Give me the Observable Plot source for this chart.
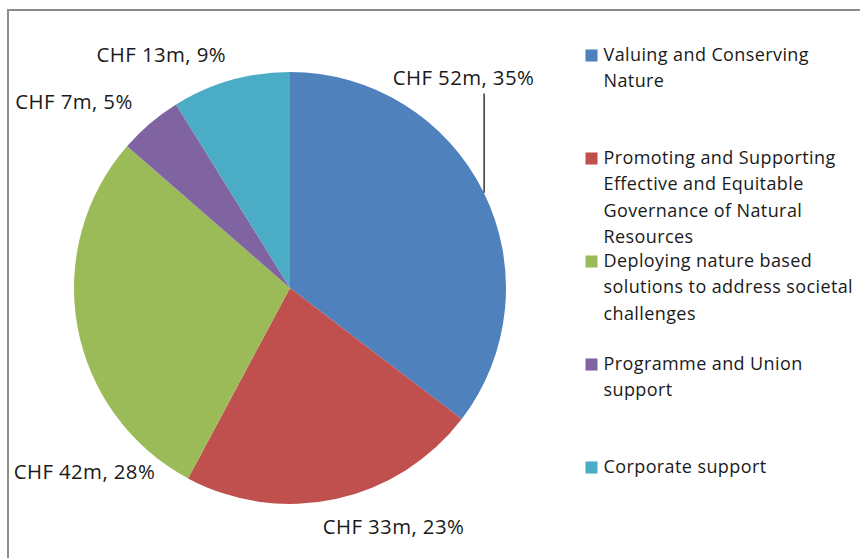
<!DOCTYPE html>
<html>
<head>
<meta charset="utf-8">
<script src="https://cdn.jsdelivr.net/npm/d3@7"></script>
<script src="https://cdn.jsdelivr.net/npm/@observablehq/plot@0.6"></script>
<style>
  html, body { margin: 0; padding: 0; background: #fff; }
  #wrap { position: relative; width: 860px; height: 558px; overflow: hidden; background: #fff; }
  #frame { position: absolute; left: 7px; top: 9px; width: 900px; height: 600px; border: 2px solid #8c8c8c; box-sizing: border-box; }
  #pie { position: absolute; left: 0; top: 0; }
  #legend { position: absolute; left: 560px; top: 0; }
  svg text { letter-spacing: 0.4px; }
</style>
</head>
<body>
<div id="wrap">
  <div id="frame"></div>
  <div id="pie"></div>
  <div id="legend"></div>
</div>
<script>
// ---- data ----
const categories = [
  "Valuing and Conserving Nature",
  "Promoting and Supporting Effective and Equitable Governance of Natural Resources",
  "Deploying nature based solutions to address societal challenges",
  "Programme and Union support",
  "Corporate support"
];
const valuesCHFm = [52, 33, 42, 7, 13];
const percents = [35, 23, 28, 5, 9];
const colors = ["#4F81BD", "#C0504D", "#9BBB59", "#8064A2", "#4BACC6"];

// ---- layout (label placement relative to slice mid-angle, in pie radii / degrees) ----
const labelLayout = [
  {turn: -24.2, radius: 1.26, leader: true},
  {turn: -11.1, radius: 1.203, leader: false},
  {turn: -31.3, radius: 1.278, leader: false},
  {turn: -8.9, radius: 1.322, leader: false},
  {turn: -13.1, radius: 1.233, leader: false}
];

const FONT = "Open Sans";
const LABEL_SIZE = 20.4;
const LEGEND_SIZE = 18;
const TEXT_COLOR = "#1a1a1a";

const arcs = d3.pie().sort(null).value(d => d)(valuesCHFm);
const slices = categories.map((name, i) => {
  const a = arcs[i];
  const mid = (a.startAngle + a.endAngle) / 2;
  const L = labelLayout[i];
  const la = mid + L.turn * Math.PI / 180;
  return {
    name, value: valuesCHFm[i], pct: percents[i],
    startAngle: a.startAngle, endAngle: a.endAngle, mid,
    lx: L.radius * Math.sin(la), ly: L.radius * Math.cos(la),
    leader: L.leader
  };
});

const pie = Plot.plot({
  width: 560, height: 558,
  marginLeft: 74, marginRight: 54, marginTop: 72, marginBottom: 54,
  x: {domain: [-1, 1], axis: null},
  y: {domain: [-1, 1], axis: null},
  color: {domain: categories, range: colors},
  style: {fontFamily: FONT, background: "transparent", overflow: "visible"},
  marks: [
    Plot.dot(slices, {
      x: () => 0, y: () => 0, fill: "name",
      render(index, scales, values, dimensions, context) {
        const cx = scales.x(0), cy = scales.y(0), R = scales.x(1) - scales.x(0);
        const arc = d3.arc().innerRadius(0).outerRadius(R);
        const g = d3.create("svg:g").attr("aria-label", "pie slices");
        g.selectAll("path").data(slices).join("path")
          .attr("transform", `translate(${cx},${cy})`)
          .attr("d", d => arc(d))
          .attr("fill", d => scales.color(d.name));
        return g.node();
      }
    }),
    Plot.link(slices.filter(d => d.leader), {
      x1: d => Math.sin(d.mid), y1: d => Math.cos(d.mid),
      x2: d => Math.sin(d.mid), y2: d => d.ly - 15 / 216,
      stroke: "#000", strokeWidth: 1.2
    }),
    Plot.text(slices, {
      x: "lx", y: "ly",
      text: d => `CHF ${d.value}m, ${d.pct}%`,
      fontSize: LABEL_SIZE, fill: TEXT_COLOR
    })
  ]
});
document.getElementById("pie").appendChild(pie);

// ---- legend ----
const ctx = document.createElement("canvas").getContext("2d");
ctx.font = `${LEGEND_SIZE}px "${FONT}"`;
function measure(s) { return ctx.measureText(s).width + s.length * 0.4; }
function wrap(s, maxW) {
  const words = s.split(" ");
  const lines = [];
  let cur = "";
  for (const w of words) {
    const t = cur ? cur + " " + w : w;
    if (cur && measure(t) > maxW) { lines.push(cur); cur = w; } else cur = t;
  }
  if (cur) lines.push(cur);
  return lines.join("\n");
}

const legend = Plot.plot({
  width: 300, height: 558,
  marginLeft: 0, marginRight: 0, marginTop: 54, marginBottom: 91,
  y: {type: "point", padding: 0, domain: categories, axis: null},
  color: {domain: categories, range: colors},
  style: {fontFamily: FONT, background: "transparent", overflow: "visible"},
  marks: [
    Plot.dot(categories, {
      frameAnchor: "left", y: d => d, dx: 31, fill: d => d,
      symbol: "square", r: 6.8
    }),
    Plot.text(categories, {
      frameAnchor: "left", y: d => d, dx: 43, dy: -0.36 * LEGEND_SIZE - 7,
      text: d => wrap(d, 259),
      textAnchor: "start", lineAnchor: "top",
      lineHeight: 26.4 / LEGEND_SIZE,
      fontSize: LEGEND_SIZE, fill: TEXT_COLOR
    })
  ]
});
document.getElementById("legend").appendChild(legend);
</script>
</body>
</html>
